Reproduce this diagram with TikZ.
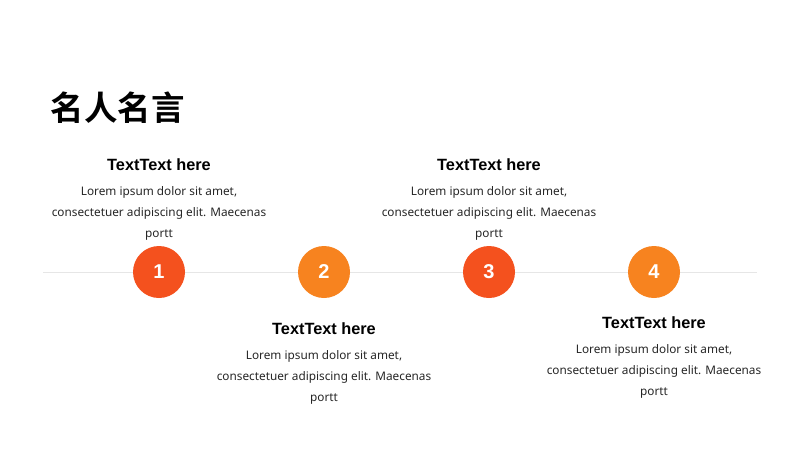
\documentclass[tikz,border=0pt]{standalone}
\usepackage{fontspec}
\setmainfont{Liberation Sans}
\newfontfamily\cjkbold[BoldFont={Noto Sans CJK SC Bold}]{Noto Sans CJK SC}
\newfontfamily\bodyfont{Noto Sans}
\definecolor{cred}{HTML}{F4511E}
\definecolor{corange}{HTML}{F7831F}
\definecolor{cline}{HTML}{E6E6E6}
\tikzset{
  dot/.style={circle, minimum size=52pt, inner sep=0pt, text=white, font=\fontsize{20}{20}\selectfont\bfseries},
  head/.style={font=\fontsize{16.3}{18}\selectfont\bfseries, text=black},
  body/.style={font=\bodyfont\fontsize{11.8}{21}\selectfont, align=center, text=black!85},
}
\begin{document}
\begin{tikzpicture}[x=1pt,y=-1pt]
\useasboundingbox (0,0) rectangle (800,450);
\node[anchor=west, font=\cjkbold\bfseries\fontsize{33.5}{34}\selectfont] (title) at (47,108) {名人名言};
\coordinate (l0) at (43,272);
\coordinate (l1) at (757,272);
\draw[cline, line width=1pt] (l0) -- (l1);
\node[dot, fill=cred] (c1) at (159,272) {1};
\node[dot, fill=corange] (c2) at (324,272) {2};
\node[dot, fill=cred] (c3) at (489,272) {3};
\node[dot, fill=corange] (c4) at (654,272) {4};
\node[head] (h1) at (159,164.5) {TextText here};
\node[body] (b1) at (159,213) {Lorem ipsum dolor sit amet,\\consectetuer adipiscing elit. Maecenas\\portt};
\node[head] (h3) at (489,164.5) {TextText here};
\node[body] (b3) at (489,213) {Lorem ipsum dolor sit amet,\\consectetuer adipiscing elit. Maecenas\\portt};
\node[head] (h2) at (324,328.5) {TextText here};
\node[body] (b2) at (324,377) {Lorem ipsum dolor sit amet,\\consectetuer adipiscing elit. Maecenas\\portt};
\node[head] (h4) at (654,322.5) {TextText here};
\node[body] (b4) at (654,371) {Lorem ipsum dolor sit amet,\\consectetuer adipiscing elit. Maecenas\\portt};
\end{tikzpicture}
\end{document}
